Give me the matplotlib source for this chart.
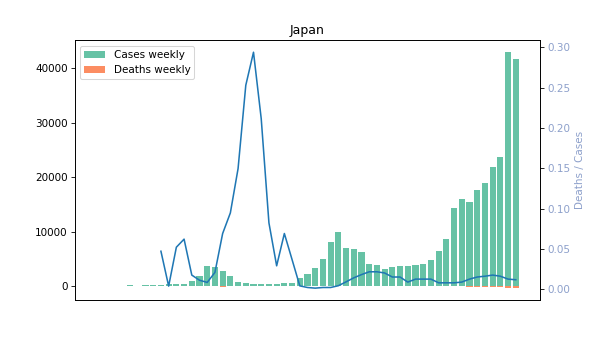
import matplotlib
matplotlib.use("Agg")
import matplotlib.pyplot as plt
import numpy as np

COUNTRY = "Japan"

# weekly totals, oldest first (first weeks have nothing reported yet)
cases_weekly = [0, 0, 0, 0,
                150, 0, 150, 150, 150, 370, 370, 370, 920, 1830,
                3670, 3490, 2750, 1830, 730, 550, 370, 370, 370, 370,
                550, 550, 1470, 2200, 3300, 4950, 8070, 9900, 6970, 6790,
                6240, 4040, 3850, 3120, 3490, 3670, 3670, 3850, 4040, 4770,
                6480, 8620, 14310, 15960, 15410, 17610, 18900, 21900, 23730, 42940,
                41650]
deaths_weekly = [0, 0, 0, 0,
                 0, 0, 0, 0, 5, 1, 10, 12, 8, 10,
                 15, 30, 190, 45, 30, 35, 30, 25, 15, 5,
                 15, 10, 3, 4, 6, 3, 6, 20, 30, 40,
                 45, 40, 35, 30, 25, 28, 15, 22, 25, 30,
                 25, 32, 55, 60, 200, 210, 220, 240, 260, 350,
                 400]

# deaths / cases ratio, undefined for the first weeks
ratio = [np.nan, np.nan, np.nan, np.nan,
         np.nan, np.nan, np.nan, np.nan, 0.047, 0.0037, 0.052, 0.062, 0.0174, 0.011,
         0.0083, 0.0207, 0.069, 0.0946, 0.1496, 0.253, 0.294, 0.2116, 0.0822, 0.0289,
         0.069, 0.0366, 0.004, 0.002, 0.0012, 0.002, 0.002, 0.0042, 0.009, 0.014,
         0.018, 0.0215, 0.0215, 0.020, 0.015, 0.015, 0.0087, 0.0124, 0.0124, 0.0124,
         0.0078, 0.0078, 0.0078, 0.0087, 0.0124, 0.015, 0.016, 0.0174, 0.016, 0.0124,
         0.0116]

weeks = np.arange(len(cases_weekly))

fig, ax = plt.subplots(figsize=(8, 337 / 75), dpi=75)

ax.bar(weeks, cases_weekly, color="#66c2a5", label="Cases weekly")
ax.bar(weeks, -np.array(deaths_weekly), color="#fc8d62", label="Deaths weekly")
ax.set_xticks([])
ax.legend(loc="upper left")
ax.set_title(COUNTRY)

ax2 = ax.twinx()
ax2.plot(weeks, ratio, color="#1f77b4")
ax2.set_ylabel("Deaths / Cases", color="#8da0cb")
ax2.tick_params(axis="y", labelcolor="#8da0cb")

fig.savefig("out.png", dpi=75)
